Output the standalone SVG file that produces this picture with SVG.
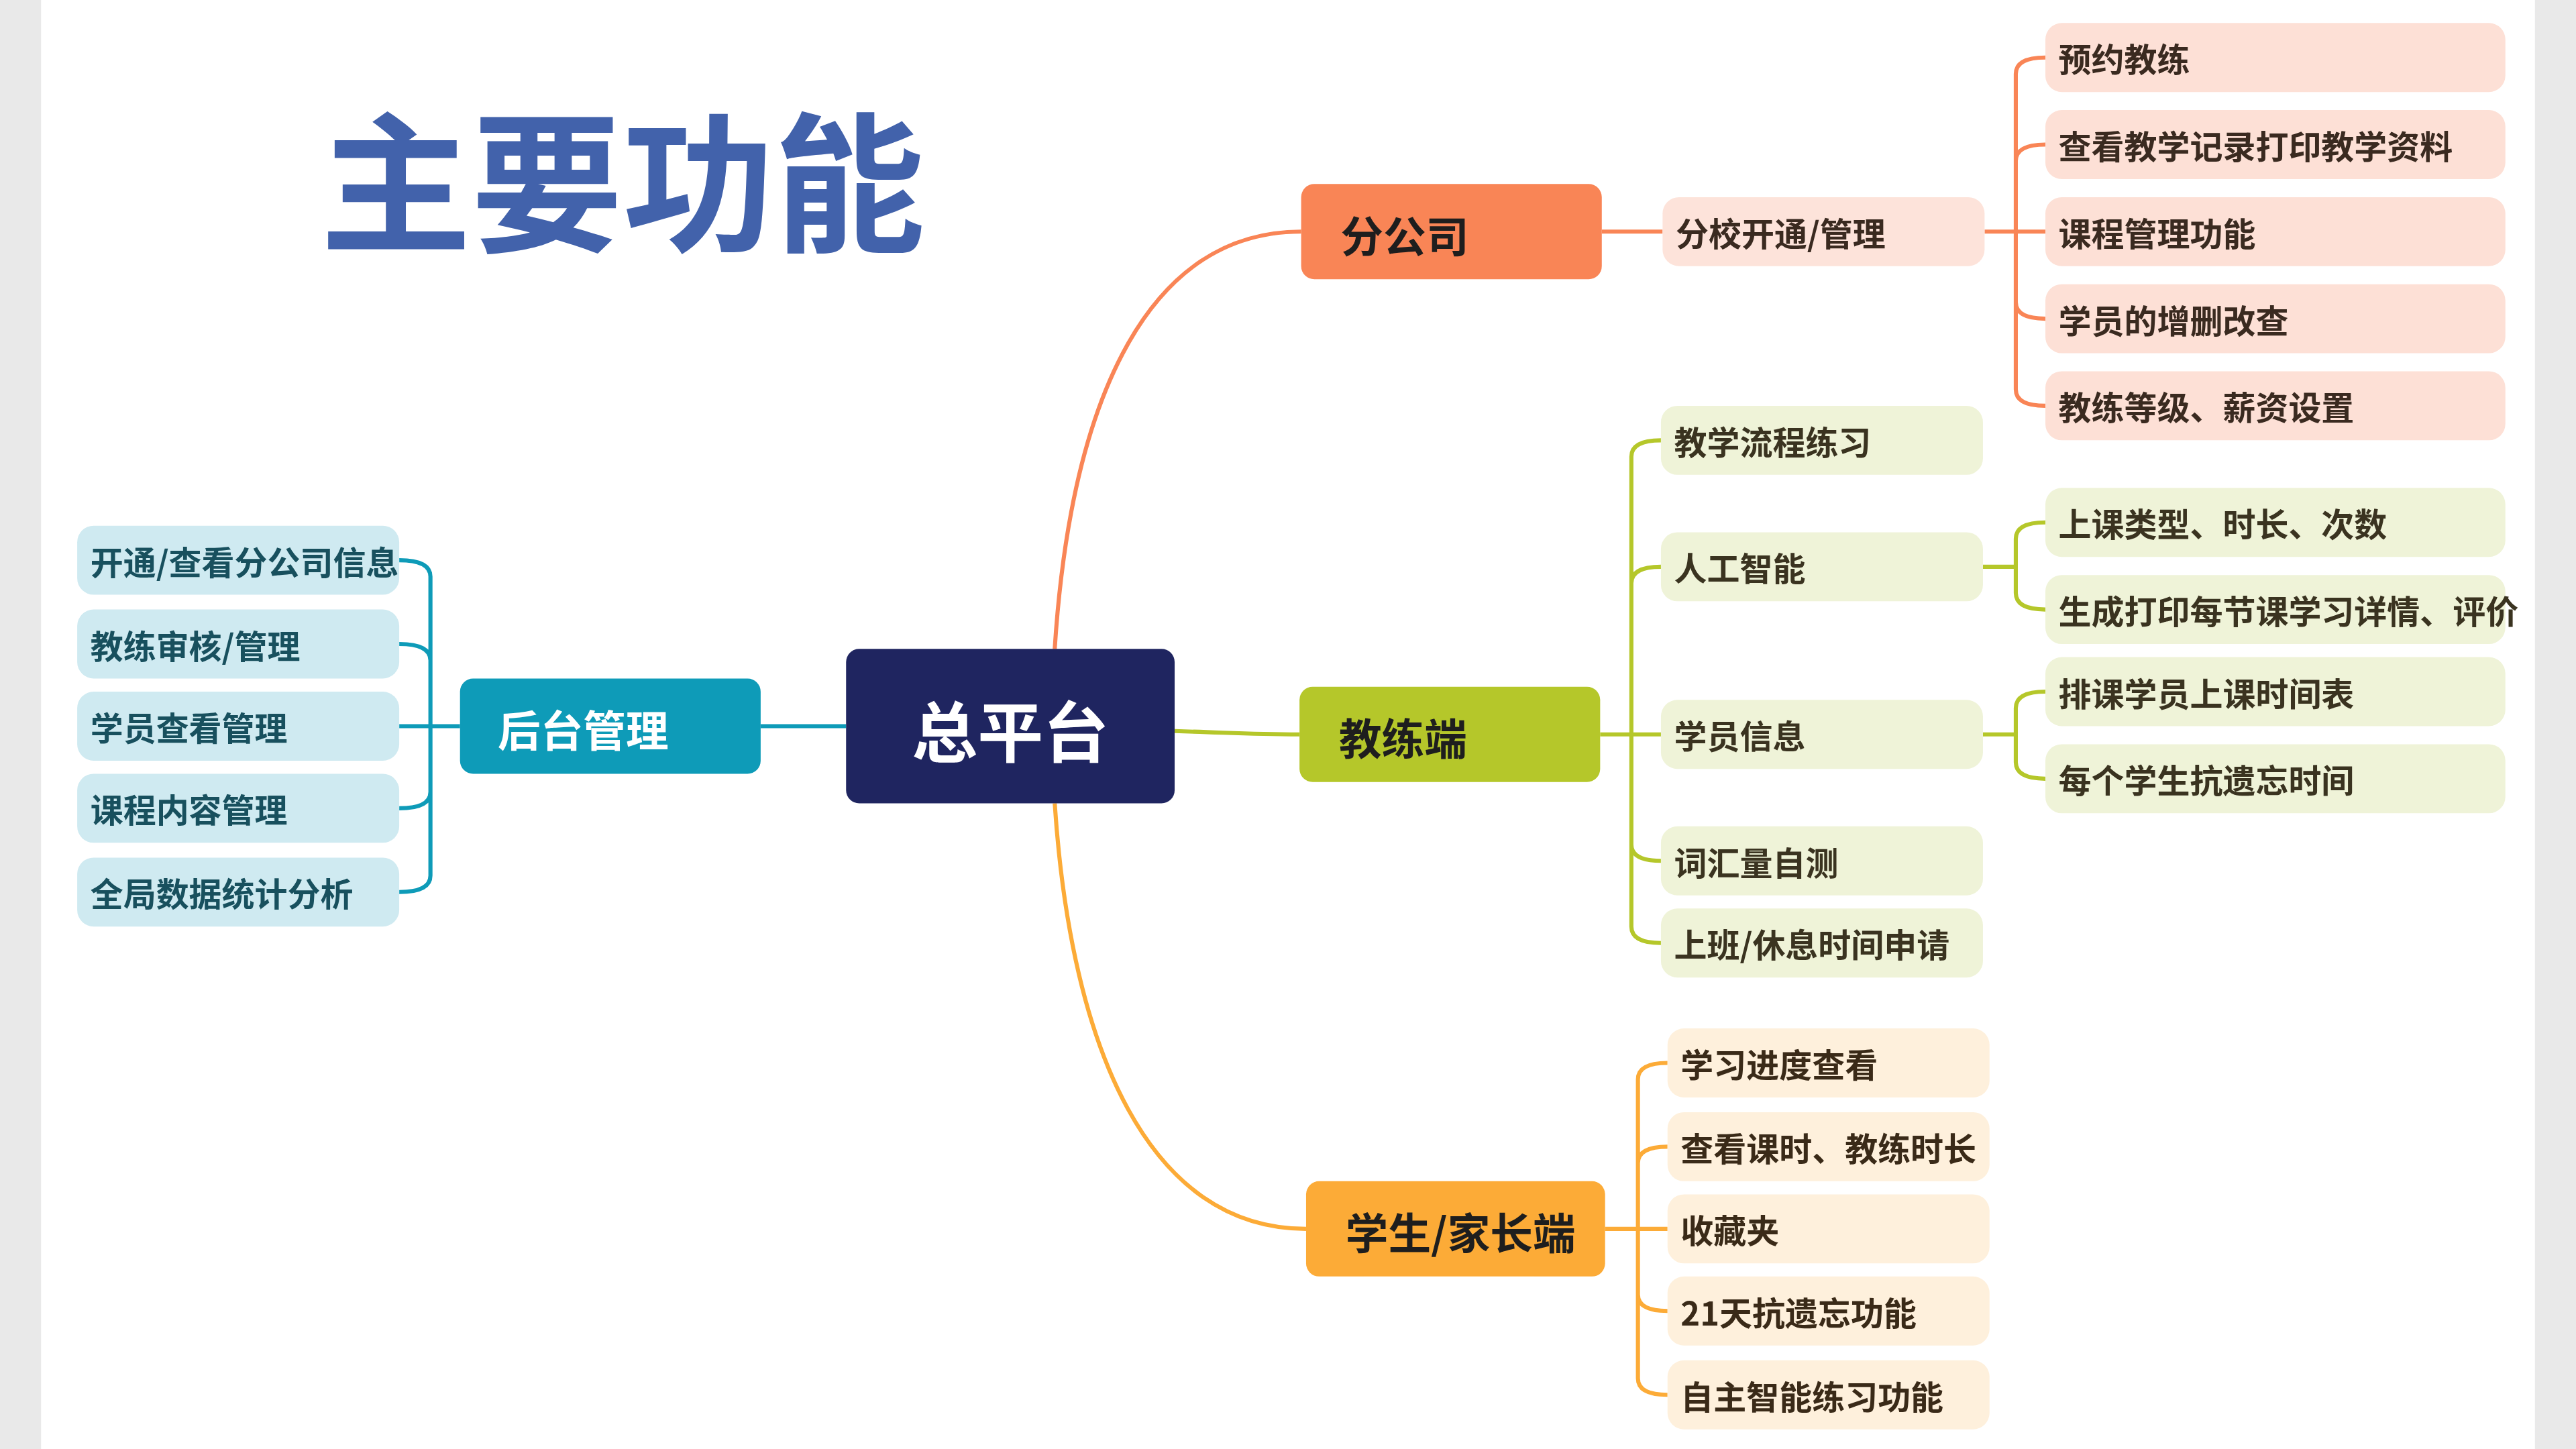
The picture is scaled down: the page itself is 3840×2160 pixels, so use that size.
<svg xmlns="http://www.w3.org/2000/svg" width="3840" height="2160" viewBox="0 0 3840 2160">
<style>
text{font-family:"Noto Sans CJK SC","Noto Sans",sans-serif;font-weight:bold;dominant-baseline:central}
.lf{font-size:20px}
.c{fill:none;stroke-width:2.5}
</style>
<rect width="3840" height="2160" fill="#fff"/>
<g transform="scale(2.449)">
<rect x="0" y="0" width="25" height="882" fill="#e9e9e9"/>
<rect x="1543" y="0" width="25" height="882" fill="#e9e9e9"/>
<text x="195" y="106" font-size="92" fill="#4262ab">主要功能</text>
<g id="connectors">
<path class="c" stroke="#f98556" stroke-width="3" d="M642,395 C652,240 700,141 792,141"/>
<path class="c" stroke="#fcab37" stroke-width="3" d="M642,489 C652,640 700,748 795,748"/>
<path class="c" stroke="#b5c72a" stroke-width="3.5" d="M715,445 C750,446 760,447 791,447"/>
<path class="c" stroke="#0e9bb8" stroke-width="4" d="M463,442 H515"/>
<path class="c" stroke="#0e9bb8" d="M280,442 H243 M262,442 M243,341 Q262,341 262,351 V533 Q262,543 243,543 M243,392 Q262,392 262,402 M243,492 Q262,492 262,482"/>
<path class="c" stroke="#f98556" d="M975,141 H1012 M1208,141 H1245 M1245,35 Q1227,35 1227,45 V237 Q1227,247 1245,247 M1245,88 Q1227,88 1227,98 M1245,194 Q1227,194 1227,184"/>
<path class="c" stroke="#b5c72a" d="M974,447 H1011 M1011,268 Q993,268 993,278 V564 Q993,574 1011,574 M1011,345 Q993,345 993,355 M1011,524 Q993,524 993,514 M1207,345 H1227 M1245,318 Q1227,318 1227,328 V361 Q1227,371 1245,371 M1207,447 H1227 M1245,421 Q1227,421 1227,431 V464 Q1227,474 1245,474"/>
<path class="c" stroke="#fcab37" d="M977,748 H1015 M1015,647 Q997,647 997,657 V839 Q997,849 1015,849 M1015,698 Q997,698 997,708 M1015,798 Q997,798 997,788"/>
</g>
<g id="center"><rect x="515" y="395" width="200" height="94" rx="8" fill="#1f2560"/><text x="615" y="443" font-size="40" fill="#fff" text-anchor="middle">总平台</text></g>
<g id="backend"><rect x="280" y="413" width="183" height="58" rx="8" fill="#0e9bb8"/><text x="303" y="443" font-size="26" fill="#fff">后台管理</text></g>
<g id="branch"><rect x="792" y="112" width="183" height="58" rx="8" fill="#f98556"/><text x="816" y="142" font-size="26" fill="#1e1e1e">分公司</text></g>
<g id="coach"><rect x="791" y="418" width="183" height="58" rx="8" fill="#b5c72a"/><text x="815" y="448" font-size="26" fill="#1e1e1e">教练端</text></g>
<g id="student"><rect x="795" y="719" width="182" height="58" rx="8" fill="#fcab37"/><text x="819" y="749" font-size="26" fill="#1e1e1e">学生/家长端</text></g>
<g fill="#cfeaf1">
<g id="b1"><rect x="47" y="320" width="196" height="42" rx="10"/><text class="lf" x="55" y="341" fill="#18505e">开通/查看分公司信息</text></g>
<g id="b2"><rect x="47" y="371" width="196" height="42" rx="10"/><text class="lf" x="55" y="392" fill="#18505e">教练审核/管理</text></g>
<g id="b3"><rect x="47" y="421" width="196" height="42" rx="10"/><text class="lf" x="55" y="442" fill="#18505e">学员查看管理</text></g>
<g id="b4"><rect x="47" y="471" width="196" height="42" rx="10"/><text class="lf" x="55" y="492" fill="#18505e">课程内容管理</text></g>
<g id="b5"><rect x="47" y="522" width="196" height="42" rx="10"/><text class="lf" x="55" y="543" fill="#18505e">全局数据统计分析</text></g>
</g>
<g fill="#fde0d6">
<g id="f0"><rect x="1012" y="120" width="196" height="42" rx="10" fill="#fde3da"/><text class="lf" x="1020" y="141" fill="#3a2a20">分校开通/管理</text></g>
<g id="f1"><rect x="1245" y="14" width="280" height="42" rx="10"/><text class="lf" x="1253" y="35" fill="#3a2a20">预约教练</text></g>
<g id="f2"><rect x="1245" y="67" width="280" height="42" rx="10"/><text class="lf" x="1253" y="88" fill="#3a2a20">查看教学记录打印教学资料</text></g>
<g id="f3"><rect x="1245" y="120" width="280" height="42" rx="10"/><text class="lf" x="1253" y="141" fill="#3a2a20">课程管理功能</text></g>
<g id="f4"><rect x="1245" y="173" width="280" height="42" rx="10"/><text class="lf" x="1253" y="194" fill="#3a2a20">学员的增删改查</text></g>
<g id="f5"><rect x="1245" y="226" width="280" height="42" rx="10"/><text class="lf" x="1253" y="247" fill="#3a2a20">教练等级、薪资设置</text></g>
</g>
<g fill="#eff3d8">
<g id="g1"><rect x="1011" y="247" width="196" height="42" rx="10"/><text class="lf" x="1019" y="268" fill="#3a3320">教学流程练习</text></g>
<g id="g2"><rect x="1011" y="324" width="196" height="42" rx="10"/><text class="lf" x="1019" y="345" fill="#3a3320">人工智能</text></g>
<g id="g3"><rect x="1011" y="426" width="196" height="42" rx="10"/><text class="lf" x="1019" y="447" fill="#3a3320">学员信息</text></g>
<g id="g4"><rect x="1011" y="503" width="196" height="42" rx="10"/><text class="lf" x="1019" y="524" fill="#3a3320">词汇量自测</text></g>
<g id="g5"><rect x="1011" y="553" width="196" height="42" rx="10"/><text class="lf" x="1019" y="574" fill="#3a3320">上班/休息时间申请</text></g>
<g id="g6"><rect x="1245" y="297" width="280" height="42" rx="10"/><text class="lf" x="1253" y="318" fill="#3a3320">上课类型、时长、次数</text></g>
<g id="g7"><rect x="1245" y="350" width="280" height="42" rx="10"/><text class="lf" x="1253" y="371" fill="#3a3320">生成打印每节课学习详情、评价</text></g>
<g id="g8"><rect x="1245" y="400" width="280" height="42" rx="10"/><text class="lf" x="1253" y="421" fill="#3a3320">排课学员上课时间表</text></g>
<g id="g9"><rect x="1245" y="453" width="280" height="42" rx="10"/><text class="lf" x="1253" y="474" fill="#3a3320">每个学生抗遗忘时间</text></g>
</g>
<g fill="#fef0dc">
<g id="o1"><rect x="1015" y="626" width="196" height="42" rx="10"/><text class="lf" x="1023" y="647" fill="#3a2a18">学习进度查看</text></g>
<g id="o2"><rect x="1015" y="677" width="196" height="42" rx="10"/><text class="lf" x="1023" y="698" fill="#3a2a18">查看课时、教练时长</text></g>
<g id="o3"><rect x="1015" y="727" width="196" height="42" rx="10"/><text class="lf" x="1023" y="748" fill="#3a2a18">收藏夹</text></g>
<g id="o4"><rect x="1015" y="777" width="196" height="42" rx="10"/><text class="lf" x="1023" y="798" fill="#3a2a18">21天抗遗忘功能</text></g>
<g id="o5"><rect x="1015" y="828" width="196" height="42" rx="10"/><text class="lf" x="1023" y="849" fill="#3a2a18">自主智能练习功能</text></g>
</g>
</g>
</svg>
